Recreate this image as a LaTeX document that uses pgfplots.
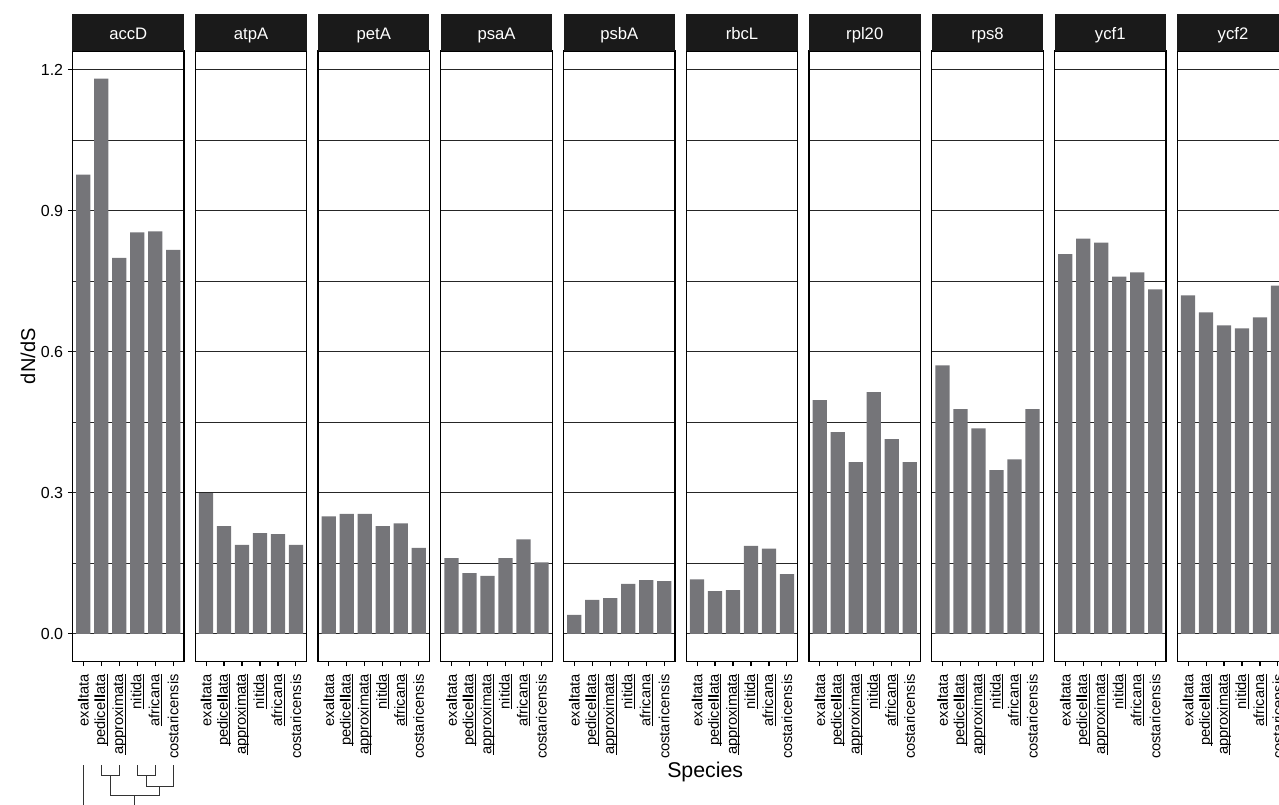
\documentclass[border=0pt]{standalone}
\usepackage{pgfplots}
\pgfplotsset{compat=1.18}
\usepackage{fontspec}
\setmainfont{Liberation Sans}
\definecolor{barcol}{RGB}{117,117,121}
\definecolor{stripcol}{RGB}{26,26,26}
\newcommand\ul[1]{\setbox0\hbox{#1}\rlap{\rule[-1.9pt]{\wd0}{0.75pt}}\box0}
\tikzset{striplabel/.style={text=white, anchor=base, inner sep=0pt, font=\fontsize{12.5}{14}\selectfont}}
\pgfplotsset{
  panel/.style={
    scale only axis,
    width=83.625pt, height=457.875pt,
    anchor=south west,
    xmin=0.4, xmax=6.6, ymin=-0.059, ymax=1.240,
    ybar, bar width=0.8, bar shift=0pt,
    xtick={1,2,3,4,5,6},
    xticklabels={exa\textbf{l}tata, \ul{pedice\textbf{ll}ata}, \ul{approximata}, \ul{nitida}, \ul{africana}, costaricensis},
    xticklabel shift=2.5pt,
    x tick label style={rotate=90, anchor=east, font=\fontsize{11}{13}\selectfont},
    y tick label style={font=\fontsize{12}{14}\selectfont, /pgf/number format/fixed, /pgf/number format/fixed zerofill, /pgf/number format/precision=1, /pgf/number format/assume math mode=true},
    ytick={0,0.3,0.6,0.9,1.2},
    minor ytick={0.15,0.45,0.75,1.05},
    ymajorgrids, yminorgrids,
    major grid style={black!85, line width=0.55pt},
    minor grid style={black!85, line width=0.45pt},
    axis line style={black, line width=1pt},
    tick style={black, line width=0.8pt},
    major tick length=3.5pt, minor tick length=0pt,
    tick align=outside, tick pos=left,
    clip=false,
  },
  noy/.style={yticklabels={}, ytick style={draw=none}},
}
\newcommand\panel[4]{%
\begin{axis}[panel, at={({(72.5+122.75*#1)*0.75pt},106.875pt)}, #4]
\addplot[fill=barcol, draw=none] coordinates {#3};
\fill[stripcol] (axis description cs:0,1) rectangle (axis description cs:1,1.0598);
\node[striplabel] at (axis description cs:0.5,1.0192) {#2};
\end{axis}}
\begin{document}
\begin{tikzpicture}
\useasboundingbox (0,0) rectangle (959.25pt,603pt);
\clip (0,0) rectangle (959.25pt,603pt);
% first panel with y axis, label and tree
\begin{axis}[panel, at={(54.375pt,106.875pt)},
  ylabel={dN/dS}, ylabel style={at={(axis description cs:-0.399,0.5)}, anchor=center, font=\fontsize{15}{17}\selectfont}]
\addplot[fill=barcol, draw=none] coordinates {(1,0.977) (2,1.181) (3,0.800) (4,0.854) (5,0.856) (6,0.817)};
\fill[stripcol] (axis description cs:0,1) rectangle (axis description cs:1,1.0598);
\node[striplabel] at (axis description cs:0.5,1.0192) {accD};
\node[font=\fontsize{16}{18}\selectfont, anchor=base west, inner sep=0pt] at (axis description cs:5.332,-0.1903) {Species};
\begin{scope}[black!80, line width=0.75pt]
\draw (axis cs:1,-0.280) -- (axis cs:1,-0.40);
\draw (axis cs:2,-0.280) |- (axis cs:3,-0.3015) -- (axis cs:3,-0.280);
\draw (axis cs:4,-0.280) |- (axis cs:5,-0.3015) -- (axis cs:5,-0.280);
\draw (axis cs:4.5,-0.3015) |- (axis cs:6,-0.3248) -- (axis cs:6,-0.280);
\draw (axis cs:2.5,-0.3015) |- (axis cs:5.25,-0.3446) -- (axis cs:5.25,-0.3248);
\draw (axis cs:3.875,-0.3446) -- (axis cs:3.875,-0.40);
\end{scope}
\end{axis}
\panel{1}{atpA}{(1,0.299) (2,0.229) (3,0.189) (4,0.214) (5,0.212) (6,0.189)}{noy}
\panel{2}{petA}{(1,0.250) (2,0.255) (3,0.255) (4,0.229) (5,0.235) (6,0.183)}{noy}
\panel{3}{psaA}{(1,0.161) (2,0.129) (3,0.123) (4,0.161) (5,0.201) (6,0.152)}{noy}
\panel{4}{psbA}{(1,0.040) (2,0.072) (3,0.076) (4,0.106) (5,0.114) (6,0.112)}{noy}
\panel{5}{rbcL}{(1,0.116) (2,0.091) (3,0.093) (4,0.187) (5,0.181) (6,0.127)}{noy}
\panel{6}{rpl20}{(1,0.497) (2,0.429) (3,0.365) (4,0.514) (5,0.414) (6,0.365)}{noy}
\panel{7}{rps8}{(1,0.571) (2,0.478) (3,0.437) (4,0.348) (5,0.371) (6,0.478)}{noy}
\panel{8}{ycf1}{(1,0.808) (2,0.841) (3,0.832) (4,0.760) (5,0.769) (6,0.733)}{noy}
\panel{9}{ycf2}{(1,0.720) (2,0.684) (3,0.656) (4,0.650) (5,0.673) (6,0.741)}{noy}
\end{tikzpicture}
\end{document}
